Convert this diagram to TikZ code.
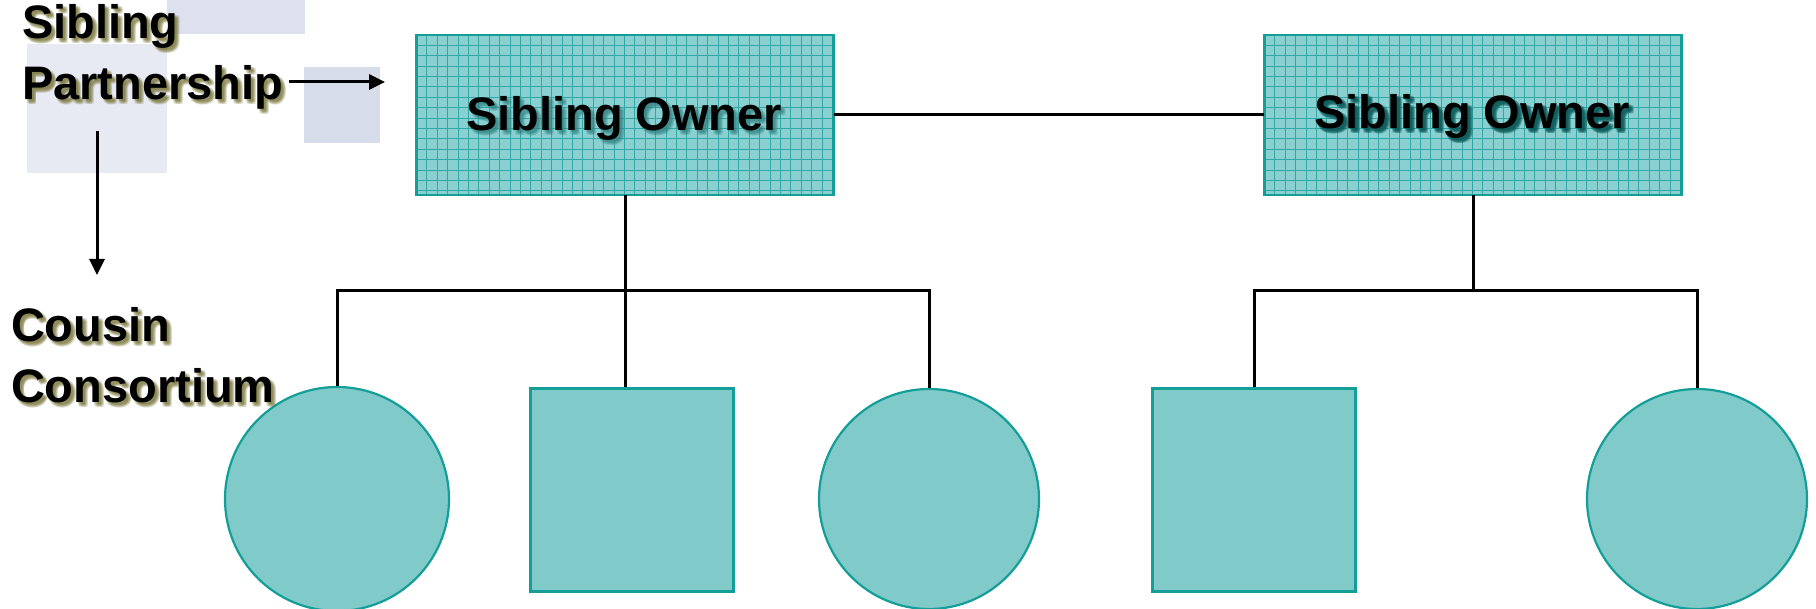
\documentclass[tikz,border=0pt]{standalone}
\usepackage{fontspec}
\setmainfont{Liberation Sans}
\usetikzlibrary{arrows.meta}

\definecolor{tealedge}{HTML}{139E98}
\definecolor{tealfill}{HTML}{80CACA}
\definecolor{gridfill}{HTML}{8AD0D0}
\definecolor{gridln}{HTML}{31A8A6}
\definecolor{oliveshade}{HTML}{6E6A28}
\definecolor{tealshade}{HTML}{2F7F7F}
\definecolor{tealdark}{HTML}{0C5A5A}
\definecolor{bgA}{HTML}{E7EAF3}
\definecolor{bgB}{HTML}{DDE1ED}
\definecolor{bgC}{HTML}{D6DCE9}

\tikzset{
  lbl/.style={font=\fontsize{47}{56}\selectfont\bfseries, inner sep=0pt, outer sep=0pt},
  link/.style={line width=3pt, black},
  arr/.style={line width=3pt, black, -{Triangle[length=16pt,width=15pt]}},
  ownerbox/.style={rectangle, minimum width=417pt, minimum height=160pt, inner sep=0pt, fill=gridfill},
  boxedge/.style={draw=tealedge, line width=2.5pt},
  gridline/.style={draw=gridln, line width=0.8pt},
  kid/.style={fill=tealfill, draw=tealedge, line width=2.2pt, inner sep=0pt},
  sq/.style={kid, rectangle, minimum size=203pt},
  rnd/.style={kid, circle, minimum size=220pt},
}

% text with a soft drop shadow: name, anchor, position, shadow colour, opacity, text
\newcommand\softlabel[6]{%
  \foreach \dx/\dy [count=\k] in {1/1,2/2,3/3,4/4,5/5,2/4,4/2,3/5,5/3}
    \node[lbl, text=#4, opacity=#5, anchor=#2] (#1-s\k) at ([shift={(\dx,\dy)}]#3) {#6};
  \node[lbl, anchor=#2] (#1) at (#3) {#6};
}

% grid pattern and border over an owner box
\newcommand\ownergrid[1]{%
  \begin{scope}
    \clip (#1.north west) rectangle (#1.south east);
    \foreach \i in {1,...,40}
      \draw[gridline] ([xshift=\i*10.4pt]#1.north west) -- ([xshift=\i*10.4pt]#1.south west);
    \foreach \j in {1,...,15}
      \draw[gridline] ([yshift=-\j*10.4pt]#1.north west) -- ([yshift=-\j*10.4pt]#1.north east);
  \end{scope}
  \draw[boxedge] (#1.north west) rectangle (#1.south east);
}

\begin{document}
\begin{tikzpicture}[x=1pt, y=-1pt]
  \useasboundingbox (0,0) rectangle (1816,609);
  \fill[white] (0,0) rectangle (1816,609);

  % pale background blocks
  \fill[bgA] (27,44) rectangle (167,173);
  \fill[bgB] (167,0) rectangle (305,34);
  \fill[bgC] (304,67) rectangle (380,143);

  % owners
  \node[ownerbox] (ownL) at (625,115) {};
  \node[ownerbox] (ownR) at (1473,115) {};
  \ownergrid{ownL}
  \ownergrid{ownR}

  % next generation
  \node[rnd, minimum size=224pt] (c1) at (337,499) {};
  \node[sq] (s1) at (632,490) {};
  \node[rnd] (c2) at (929,499) {};
  \node[sq] (s2) at (1254,490) {};
  \node[rnd] (c3) at (1697,499) {};

  % family lines
  \coordinate (barL) at (0,291);
  \coordinate (barR) at (0,291);
  \draw[link] (ownL.east) -- (ownR.west);
  \draw[link] (ownL.south) -- (ownL.south |- s1.north);
  \draw[link] (c1.north) -- (c1.north |- barL) -- (c2.north |- barL) -- (c2.north);
  \draw[link] (ownR.south) -- (ownR.south |- barR);
  \draw[link] (s2.north) -- (s2.north |- barR) -- (c3.north |- barR) -- (c3.north);

  % labels
  \softlabel{sp1}{base west}{22,39}{oliveshade}{0.16}{Sibling}
  \softlabel{sp2}{base west}{22,100}{oliveshade}{0.16}{Partnership}
  \softlabel{cc1}{base west}{11,342}{oliveshade}{0.16}{Cousin}
  \softlabel{cc2}{base west}{11,403}{oliveshade}{0.16}{Consortium}
  \softlabel{tL}{base}{624,131}{tealshade}{0.16}{Sibling Owner}
  \softlabel{tR}{base}{1472,129}{tealdark}{0.3}{Sibling Owner}

  % pointers
  \coordinate (pa0) at (289,82);
  \coordinate (pa1) at (385,82);
  \coordinate (pb0) at (97,131);
  \coordinate (pb1) at (97,275);
  \draw[arr] (pa0) -- (pa1);
  \draw[arr] (pb0) -- (pb1);
\end{tikzpicture}
\end{document}
